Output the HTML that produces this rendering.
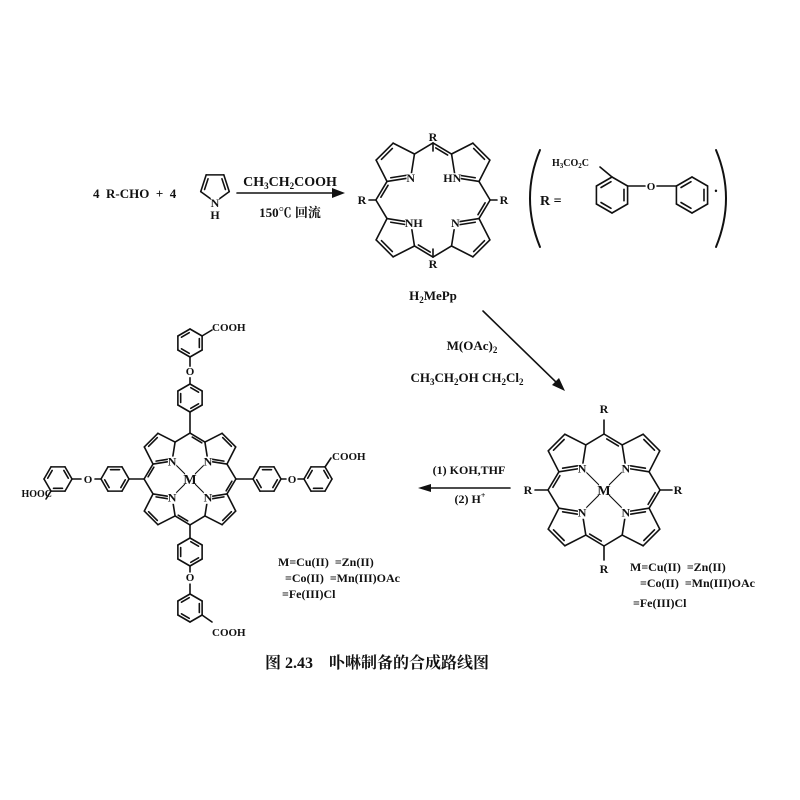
<!DOCTYPE html>
<html><head><meta charset="utf-8">
<style>
html,body{margin:0;padding:0;background:#fff;}
svg{display:block;}
text{font-family:"Liberation Serif","Noto Serif CJK SC",serif;font-weight:bold;fill:#111;}
</style></head>
<body>
<svg id="s" width="800" height="800" viewBox="0 0 800 800" xmlns="http://www.w3.org/2000/svg">
<rect width="800" height="800" fill="#fff"/>
<g id="g" stroke="#111" stroke-width="1.6" fill="none" stroke-linecap="round"></g>
<g id="t"></g>
</svg>
<script>
var G=document.getElementById('g'),T=document.getElementById('t'),NS='http://www.w3.org/2000/svg';
function L(x1,y1,x2,y2,w){var e=document.createElementNS(NS,'line');e.setAttribute('x1',x1);e.setAttribute('y1',y1);e.setAttribute('x2',x2);e.setAttribute('y2',y2);if(w)e.setAttribute('stroke-width',w);G.appendChild(e);}
function inner(a,b,c,f){
 var mx=(a[0]+b[0])/2,my=(a[1]+b[1])/2;var dx=c[0]-mx,dy=c[1]-my,d=Math.hypot(dx,dy);var o=f||3.5;
 var ox=dx/d*o,oy=dy/d*o;var sh=0.18;
 var ax=a[0]+(b[0]-a[0])*sh+ox,ay=a[1]+(b[1]-a[1])*sh+oy,bx=b[0]+(a[0]-b[0])*sh+ox,by=b[1]+(a[1]-b[1])*sh+oy;L(ax,ay,bx,by);}
function Tx(x,y,s,size,anchor,bg){
 if(bg){var r=document.createElementNS(NS,'rect');var w=s.length*size*0.7;r.setAttribute('x',x-(anchor=='middle'?w/2:(anchor=='end'?w:0)));r.setAttribute('y',y-size*0.75);r.setAttribute('width',w);r.setAttribute('height',size*0.95);r.setAttribute('fill','#fff');T.appendChild(r);}
 var e=document.createElementNS(NS,'text');e.setAttribute('x',x);e.setAttribute('y',y);e.setAttribute('font-size',size);if(anchor)e.setAttribute('text-anchor',anchor);e.innerHTML=s;T.appendChild(e);}
function hex(cx,cy,r,rot,dbl){var v=[];for(var k=0;k<6;k++){var a=(rot+60*k)*Math.PI/180;v.push([cx+r*Math.cos(a),cy+r*Math.sin(a)]);}
 for(k=0;k<6;k++)L(v[k][0],v[k][1],v[(k+1)%6][0],v[(k+1)%6][1]);
 var st=dbl||0;for(k=st;k<6;k+=2)inner(v[k],v[(k+1)%6],[cx,cy],r*0.2);return v;}
function porph(cx,cy,s,labels,metal){
 var q=[[-1,-1],[1,-1],[1,1],[-1,1]];var Ns=[];
 var mes={top:[cx,cy-56*s],right:[cx+56*s,cy],bottom:[cx,cy+56*s],left:[cx-56*s,cy]};
 q.forEach(function(p,i){var P=[cx+p[0]*36*s,cy+p[1]*36*s];var th=Math.atan2(-p[1],-p[0]);var r=20*s,v=[];
  for(var k=0;k<5;k++){var a=th+k*72*Math.PI/180;v.push([P[0]+r*Math.cos(a),P[1]+r*Math.sin(a)]);}
  for(k=0;k<5;k++)L(v[k][0],v[k][1],v[(k+1)%5][0],v[(k+1)%5][1]);
  inner(v[2],v[3],P,3.2*s);
  if(i%2==0)inner(v[0],v[1],P,3*s);else inner(v[4],v[0],P,3*s);
  Ns.push(v[0]);
  [v[1],v[4]].forEach(function(c){var best=null,bd=1e9;for(var m in mes){var d=Math.hypot(mes[m][0]-c[0],mes[m][1]-c[1]);if(d<bd){bd=d;best=mes[m];}}L(c[0],c[1],best[0],best[1]);});
 });
 inner(mes.top,[cx+(-36+20*Math.cos(-27*Math.PI/180))*s*-1, cy+(-36+20*Math.sin(-27*Math.PI/180))*s],[cx,cy],3*s);
 inner(mes.bottom,[cx+(-36+20*Math.cos(-27*Math.PI/180))*s, cy-(-36+20*Math.sin(-27*Math.PI/180))*s],[cx,cy],3*s);
 inner(mes.left,[cx+(-36+20*Math.cos(117*Math.PI/180))*s, cy+(-36+20*Math.sin(117*Math.PI/180))*s],[cx,cy],3*s);
 inner(mes.right,[cx-(-36+20*Math.cos(117*Math.PI/180))*s, cy-(-36+20*Math.sin(117*Math.PI/180))*s],[cx,cy],3*s);
 if(metal){Ns.forEach(function(n){L(n[0],n[1],cx,cy,1.1);});Tx(cx,cy+5,'M',14,'middle',true);}
 Ns.forEach(function(n,i){Tx(n[0]+(labels[i][1]||0),n[1]+4.5,labels[i][0],12,'middle',true);});
 return mes;}
// Top reaction
Tx(93,198,'4&#160;&#160;R<tspan>-</tspan>CHO&#160;&#160;+&#160;&#160;4',13,'start');
(function(){var cx=215,cy=187,r=15,v=[];for(var k=0;k<5;k++){var a=(90+72*k)*Math.PI/180;v.push([cx+r*Math.cos(a),cy+r*Math.sin(a)]);}
 for(k=0;k<5;k++)L(v[k][0],v[k][1],v[(k+1)%5][0],v[(k+1)%5][1]);inner(v[1],v[2],[cx,cy],3);inner(v[3],v[4],[cx,cy],3);
 Tx(215,207,'N',12,'middle',true);Tx(215,219,'H',12,'middle');})();
L(237,193,335,193);G.insertAdjacentHTML('beforeend','<polygon points="345,193 332,188 332,198" fill="#111" stroke="none"/>');
Tx(290,186,'CH<tspan font-size="9" dy="3">3</tspan><tspan dy="-3">CH</tspan><tspan font-size="9" dy="3">2</tspan><tspan dy="-3">COOH</tspan>',14,'middle');
Tx(290,217,'150℃ 回流',13,'middle');
porph(433,200,1.02,[['N',0],['HN',-3],['N',0],['NH',3]],false);
L(433,143,433,151);Tx(433,141,'R',12,'middle');L(433,257,433,249);Tx(433,268,'R',12,'middle');
L(369,200,376,200);Tx(362,204,'R',12,'middle');L(490,200,497,200);Tx(504,204,'R',12,'middle');
Tx(433,300,'H<tspan font-size="9" dy="3">2</tspan><tspan dy="-3">MePp</tspan>',13,'middle');
// R definition
G.insertAdjacentHTML('beforeend','<path d="M540,150 Q520,198 540,247" stroke-width="2"/><path d="M716,150 Q736,198 716,247" stroke-width="2"/>');
Tx(540,205,'R =',14,'start');
hex(612,195,18,-90,1);Tx(552,166,'H<tspan font-size="7" dy="2">3</tspan><tspan dy="-2">CO</tspan><tspan font-size="7" dy="2">2</tspan><tspan dy="-2">C</tspan>',10,'start');
L(612,177,600,167);
L(627.6,186,645,186);Tx(651,190,'O',11,'middle');L(657,186,676.4,186);
hex(692,195,18,-90,1);Tx(716,194,'•',9,'middle');
// arrow 2
L(483,311,558,384);G.insertAdjacentHTML('beforeend','<polygon points="565,391 552,385 559,378" fill="#111" stroke="none"/>');
Tx(472,350,'M(OAc)<tspan font-size="9" dy="3">2</tspan>',13,'middle');
Tx(467,382,'CH<tspan font-size="9" dy="3">3</tspan><tspan dy="-3">CH</tspan><tspan font-size="9" dy="3">2</tspan><tspan dy="-3">OH CH</tspan><tspan font-size="9" dy="3">2</tspan><tspan dy="-3">Cl</tspan><tspan font-size="9" dy="3">2</tspan>',13,'middle');
// porph 2
porph(604,490,1,[['N',0],['N',0],['N',0],['N',0]],true);
L(604,434,604,420);Tx(604,413,'R',12,'middle');L(604,546,604,560);Tx(604,573,'R',12,'middle');
L(548,490,535,490);Tx(528,494,'R',12,'middle');L(660,490,672,490);Tx(678,494,'R',12,'middle');
Tx(630,571,'M=Cu(II)&#160;&#160;=Zn(II)',12,'start');Tx(640,587,'=Co(II)&#160;&#160;=Mn(III)OAc',12,'start');Tx(633,607,'=Fe(III)Cl',12,'start');
// arrow 3
L(510,488,428,488);G.insertAdjacentHTML('beforeend','<polygon points="418,488 431,484 431,492" fill="#111" stroke="none"/>');
Tx(469,474,'(1) KOH,THF',12,'middle');Tx(470,503,'(2) H<tspan font-size="8" dy="-5">+</tspan>',12,'middle');
// porph 3
porph(190,479,0.82,[['N',0],['N',0],['N',0],['N',0]],true);
var r=14;
// top
L(190,433,190,412);hex(190,398,r,-90,0);L(190,384,190,377);Tx(190,375,'O',11,'middle',true);L(190,367,190,357);
hex(190,343,r,-90,1);L(202,336,212,330);Tx(212,331,'COOH',11,'start');
// bottom
L(190,525,190,538);hex(190,552,r,-90,0);L(190,566,190,572);Tx(190,581,'O',11,'middle',true);L(190,584,190,594);
hex(190,608,r,-90,1);L(202,615,212,622);Tx(212,636,'COOH',11,'start');
// left
L(144,479,129,479);hex(115,479,r,0,0);L(101,479,95,479);Tx(88,483,'O',11,'middle',true);L(81,479,72,479);
hex(58,479,r,0,1);L(51,491,46,499);Tx(52,497,'HOOC',10,'end');
// right
L(236,479,253,479);hex(267,479,r,0,0);L(281,479,286,479);Tx(292,483,'O',11,'middle',true);L(298,479,304,479);
hex(318,479,r,0,1);L(325,467,331,458);Tx(332,460,'COOH',11,'start');
Tx(278,566,'M=Cu(II)&#160;&#160;=Zn(II)',12,'start');Tx(285,582,'=Co(II)&#160;&#160;=Mn(III)OAc',12,'start');Tx(282,598,'=Fe(III)Cl',12,'start');
// caption
Tx(265,668,'图 2.43&#160;&#160;&#160;&#160;卟啉制备的合成路线图',16,'start');
</script>
</body></html>
